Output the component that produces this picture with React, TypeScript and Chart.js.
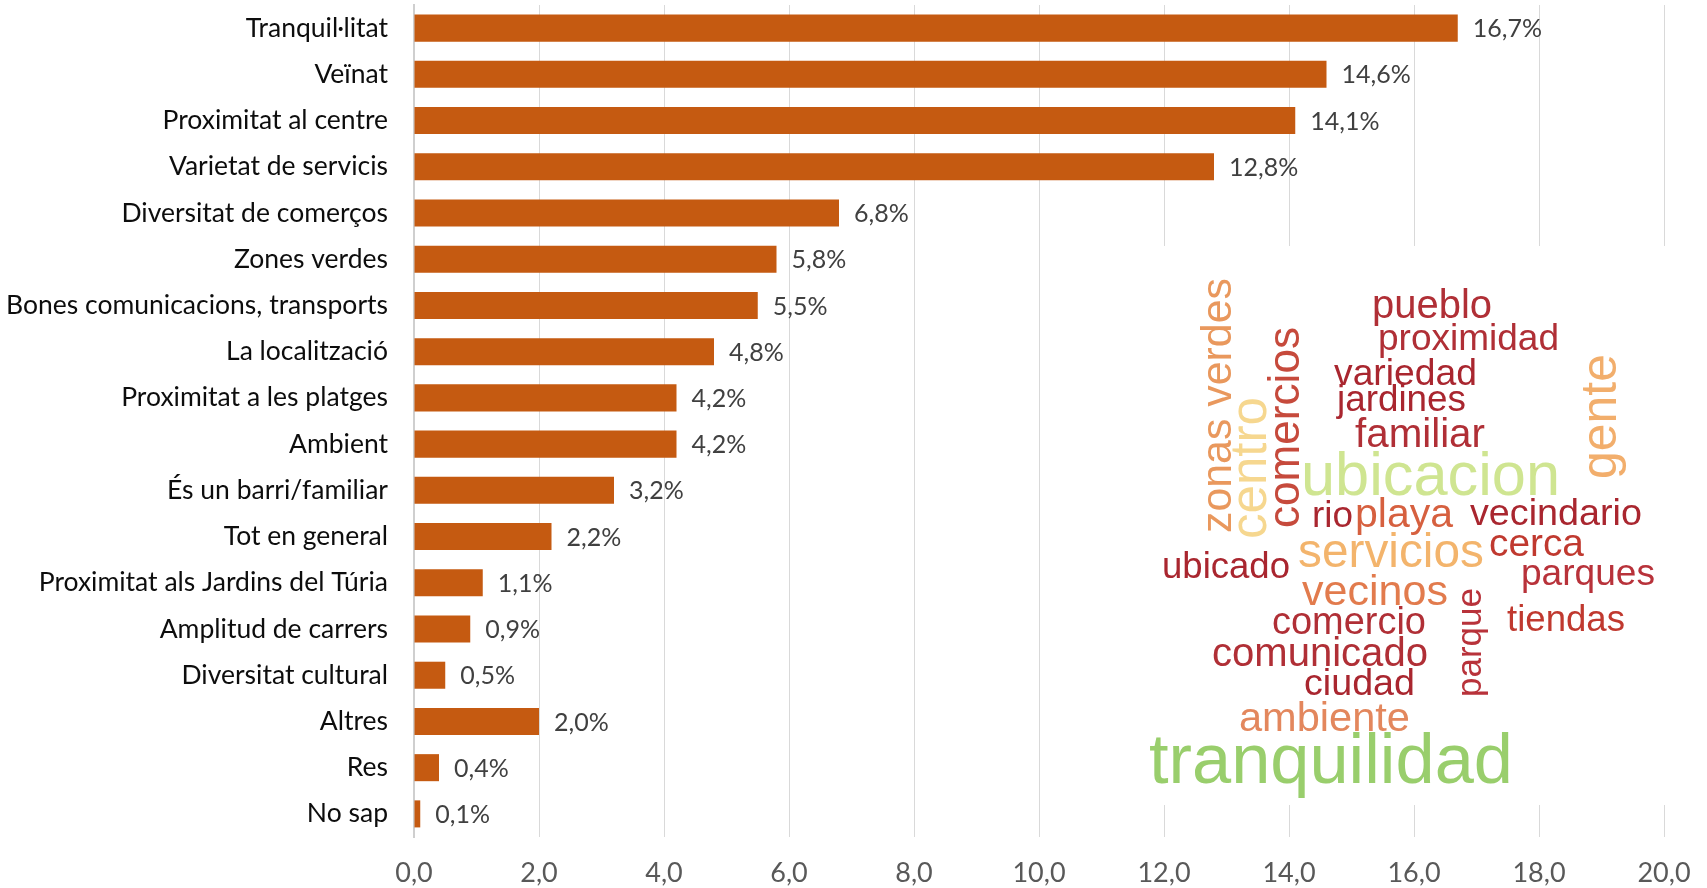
import React, { useEffect, useRef } from "react";
import { Chart, registerables } from "chart.js";

Chart.register(...registerables);

// ---- Data ----
const categories: string[] = [
  "Tranquil·litat",
  "Veïnat",
  "Proximitat al centre",
  "Varietat de servicis",
  "Diversitat de comerços",
  "Zones verdes",
  "Bones comunicacions, transports",
  "La localització",
  "Proximitat a les platges",
  "Ambient",
  "És un barri/familiar",
  "Tot en general",
  "Proximitat als Jardins del Túria",
  "Amplitud de carrers",
  "Diversitat cultural",
  "Altres",
  "Res",
  "No sap",
];

const percentages: number[] = [
  16.7, 14.6, 14.1, 12.8, 6.8, 5.8, 5.5, 4.8, 4.2, 4.2, 3.2, 2.2, 1.1, 0.9, 0.5, 2.0, 0.4, 0.1,
];

const axisMin = 0;
const axisMax = 20;
const axisStep = 2;

// word cloud (inset picture) words
const cloudWords: string[] = [
  "pueblo", "proximidad", "variedad", "jardines", "familiar", "ubicacion",
  "rio", "playa", "vecindario", "cerca", "servicios", "ubicado", "parques",
  "vecinos", "comercio", "tiendas", "comunicado", "ciudad", "ambiente",
  "tranquilidad", "zonas verdes", "centro", "comercios", "gente", "parque",
];

// ---- Styling / layout of the inset word cloud (decoration, not data) ----
type CloudItem = { x: number; y: number; len: number; color: string; vertical?: boolean };
const cloudLayout: CloudItem[] = [
  { x: 1372, y: 318, len: 120, color: "#b02f36" },
  { x: 1378, y: 350, len: 181, color: "#b02f36" },
  { x: 1334, y: 385, len: 143, color: "#a9262f" },
  { x: 1337, y: 411, len: 129, color: "#a9262f" },
  { x: 1355, y: 447, len: 130, color: "#b02f36" },
  { x: 1301, y: 495, len: 259, color: "#cfe591" },
  { x: 1312, y: 527, len: 41, color: "#a9262f" },
  { x: 1355, y: 527, len: 98, color: "#d6603f" },
  { x: 1470, y: 525, len: 172, color: "#a9262f" },
  { x: 1489, y: 556, len: 95, color: "#c0392f" },
  { x: 1298, y: 567, len: 186, color: "#f3b46c" },
  { x: 1162, y: 578, len: 128, color: "#a9262f" },
  { x: 1521, y: 585, len: 134, color: "#b8323a" },
  { x: 1302, y: 605, len: 146, color: "#e27b4d" },
  { x: 1272, y: 634, len: 154, color: "#b02f36" },
  { x: 1507, y: 631, len: 118, color: "#c0392f" },
  { x: 1212, y: 666, len: 216, color: "#b02f36" },
  { x: 1304, y: 695, len: 111, color: "#a9262f" },
  { x: 1239, y: 731, len: 171, color: "#e3875d" },
  { x: 1149, y: 783, len: 364, color: "#99ce6c" },
  { x: 1231, y: 533, len: 255, color: "#e9985d", vertical: true },
  { x: 1266, y: 539, len: 142, color: "#f6d78f", vertical: true },
  { x: 1299, y: 528, len: 201, color: "#c64a3c", vertical: true },
  { x: 1616, y: 479, len: 125, color: "#f2ae6c", vertical: true },
  { x: 1481, y: 697, len: 109, color: "#b8323a", vertical: true },
];

const fmt = (v: number, d = 1) => v.toFixed(d).replace(".", ",");

const FONT = "Lato, 'Noto Sans', sans-serif";

const dataLabelPlugin = {
  id: "dataLabels",
  afterDatasetsDraw(chart: any) {
    const ctx = chart.ctx;
    const meta = chart.getDatasetMeta(0);
    ctx.save();
    ctx.font = `25px ${FONT}`;
    ctx.fillStyle = "#404040";
    ctx.textAlign = "left";
    ctx.textBaseline = "middle";
    meta.data.forEach((bar: any, i: number) => {
      ctx.fillText(fmt(percentages[i]) + "%", bar.x + 15, bar.y + 1);
    });
    ctx.restore();
  },
};

const wordCloudPlugin = {
  id: "wordCloud",
  afterDraw(chart: any) {
    const ctx = chart.ctx;
    ctx.save();
    ctx.fillStyle = "#ffffff";
    ctx.fillRect(1132, 246, 1695 - 1132, 805 - 246);
    ctx.textAlign = "left";
    ctx.textBaseline = "alphabetic";
    cloudWords.forEach((word, i) => {
      const it = cloudLayout[i];
      ctx.font = `100px "Liberation Sans", Arial, sans-serif`;
      const w = ctx.measureText(word).width;
      const size = (100 * it.len) / w;
      ctx.font = `${size}px "Liberation Sans", Arial, sans-serif`;
      ctx.fillStyle = it.color;
      if (it.vertical) {
        ctx.save();
        ctx.translate(it.x, it.y);
        ctx.rotate(-Math.PI / 2);
        ctx.fillText(word, 0, 0);
        ctx.restore();
      } else {
        ctx.fillText(word, it.x, it.y);
      }
    });
    ctx.restore();
  },
};

export default function App() {
  const canvasRef = useRef<HTMLCanvasElement | null>(null);

  useEffect(() => {
    if (!canvasRef.current) return;
    const chart = new Chart(canvasRef.current, {
      type: "bar",
      data: {
        labels: categories,
        datasets: [
          {
            data: percentages,
            backgroundColor: "#c55a11",
            borderWidth: 0,
            categoryPercentage: 1,
            barPercentage: 0.585,
          },
        ],
      },
      options: {
        indexAxis: "y",
        animation: false,
        responsive: false,
        maintainAspectRatio: false,
        layout: { padding: { top: 5, right: 43, bottom: 0, left: 0 } },
        plugins: {
          legend: { display: false },
          tooltip: { enabled: false },
        },
        scales: {
          x: {
            type: "linear",
            min: axisMin,
            max: axisMax,
            ticks: {
              stepSize: axisStep,
              padding: 20,
              color: "#595959",
              font: { family: FONT, size: 27 },
              callback: (v: any) => fmt(Number(v)),
            },
            grid: { color: "#d9d9d9", lineWidth: 1, drawTicks: false },
            border: { display: false },
            afterFit: (s: any) => {
              s.height = 51;
              s.paddingLeft = 0;
              s.paddingRight = 0;
            },
          },
          y: {
            type: "category",
            ticks: {
              padding: 26,
              color: "#0d0d0d",
              font: { family: FONT, size: 26.5 },
              autoSkip: false,
            },
            grid: { display: false, drawTicks: false },
            border: { display: true, color: "#cfcfcf", width: 2 },
            afterFit: (s: any) => {
              s.width = 414;
              s.paddingTop = 0;
              s.paddingBottom = 0;
            },
          },
        },
      },
      plugins: [dataLabelPlugin, wordCloudPlugin],
    });
    return () => chart.destroy();
  }, []);

  return (
    <div style={{ position: "absolute", left: 0, top: 0, width: 1707, height: 888, background: "#fff" }}>
      <canvas ref={canvasRef} width={1707} height={888} style={{ display: "block" }} />
    </div>
  );
}
